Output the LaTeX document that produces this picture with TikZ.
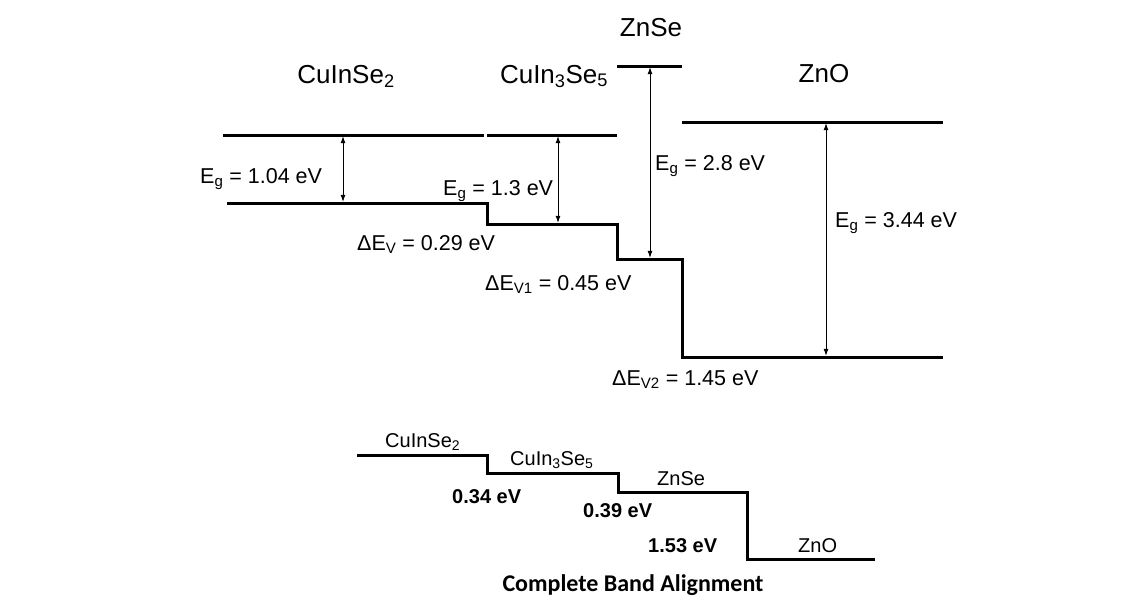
\documentclass[tikz,border=0pt]{standalone}
\usepackage{fontspec}
\setmainfont{Liberation Sans}
\newfontfamily\capfont{Carlito}
\usetikzlibrary{arrows.meta}

\begin{document}
\begin{tikzpicture}[x=1pt,y=-1pt,
  level/.style={line width=3pt},
  gap/.style={line width=0.8pt,shorten <=1.2pt,shorten >=1.2pt,
    {Latex[length=7pt,width=5pt]}-{Latex[length=7pt,width=5pt]}},
  mat/.style={inner sep=0pt,font=\fontsize{26}{30}\selectfont},
  val/.style={inner sep=0pt,font=\fontsize{21.5}{25}\selectfont},
  small/.style={inner sep=0pt,font=\fontsize{20}{24}\selectfont},
  bval/.style={inner sep=0pt,font=\fontsize{20}{24}\selectfont\bfseries}]
\useasboundingbox (0,0) rectangle (1143,598);
% conduction and valence levels
\draw[level] (223,135) -- (484,135);
\draw[level] (487,135) -- (617,135);
\draw[level] (617,66) -- (682,66);
\draw[level] (682,122) -- (943,122);
\draw[level] (227,203) -- (487,203) -- (487,224) -- (617,224) -- (617,259)
  -- (682,259) -- (682,357) -- (943,357);
\coordinate (c1) at (343,135); \coordinate (v1) at (343,203);
\coordinate (c2) at (558,135); \coordinate (v2) at (558,224);
\coordinate (c3) at (650,66);  \coordinate (v3) at (650,259);
\coordinate (c4) at (826,122); \coordinate (v4) at (826,357);
\draw[gap] (c1) -- (v1);
\draw[gap] (c2) -- (v2);
\draw[gap] (c3) -- (v3);
\draw[gap] (c4) -- (v4);
\node[mat,anchor=base] (cis) at (346,83) {CuInSe\textsubscript{2}};
\node[mat,anchor=base] (cis35) at (554,83) {CuIn\textsubscript{3}Se\textsubscript{5}};
\node[mat,anchor=base] (znse) at (651,36) {ZnSe};
\node[mat,anchor=base] (zno) at (824,82) {ZnO};
\node[val,anchor=base west] (eg1) at (200,183) {E\textsubscript{g} = 1.04 eV};
\node[val,anchor=base west] (eg2) at (443,195) {E\textsubscript{g} = 1.3 eV};
\node[val,anchor=base west] (eg3) at (655,170) {E\textsubscript{g} = 2.8 eV};
\node[val,anchor=base west] (eg4) at (835,227) {E\textsubscript{g} = 3.44 eV};
\node[val,anchor=base west] (dv) at (357,250) {ΔE\textsubscript{V} = 0.29 eV};
\node[val,anchor=base west] (dv1) at (485,290) {ΔE\textsubscript{V1} = 0.45 eV};
\node[val,anchor=base west] (dv2) at (612,385) {ΔE\textsubscript{V2} = 1.45 eV};
% complete alignment
\draw[level] (357,455) -- (487,455) -- (487,473) -- (618,473) -- (618,492)
  -- (747,492) -- (747,559) -- (875,559);
\node[small,anchor=base west] (bcis) at (385,447) {CuInSe\textsubscript{2}};
\node[small,anchor=base west] (bcis35) at (510,465) {CuIn\textsubscript{3}Se\textsubscript{5}};
\node[small,anchor=base west] (bznse) at (657,485) {ZnSe};
\node[small,anchor=base west] (bzno) at (798,552) {ZnO};
\node[bval,anchor=base west] (o1) at (452,503) {0.34 eV};
\node[bval,anchor=base west] (o2) at (583,517) {0.39 eV};
\node[bval,anchor=base west] (o3) at (648,552) {1.53 eV};
\node[inner sep=0pt,anchor=base,font=\capfont\bfseries\fontsize{24}{28}\selectfont]
  (title) at (633,591) {Complete Band Alignment};
\end{tikzpicture}
\end{document}
